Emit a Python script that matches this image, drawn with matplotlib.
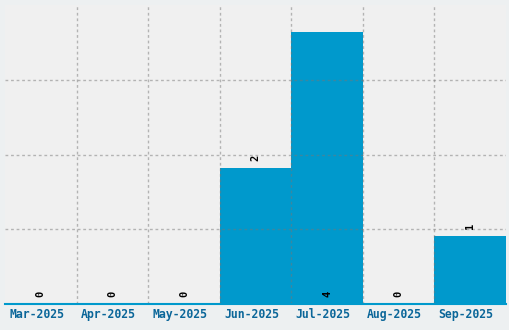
import numpy as np
import matplotlib
matplotlib.use("Agg")
import matplotlib.pyplot as plt
import matplotlib.transforms as mtransforms

meses = ["Mar-2025", "Apr-2025", "May-2025", "Jun-2025", "Jul-2025", "Aug-2025", "Sep-2025"]
valores = [0, 0, 0, 2, 4, 0, 1]

color_barra = "#0099cc"
color_texto = "#0a6699"

fig = plt.figure(figsize=(5.1, 3.3), dpi=100)
fig.patch.set_facecolor("#edf0f1")
ax = fig.add_axes([5 / 510, 26 / 330, 501 / 510, 299 / 330])
ax.set_facecolor("#f0f0f0")

x = np.arange(len(meses))
ax.bar(x, valores, width=1.0, color=color_barra, zorder=1)

ymax = max(valores) * 1.1
ax.set_xlim(-0.5, len(meses) - 0.5)
ax.set_ylim(0, ymax)

# grid encima de las barras
ax.set_xticks(x[:-1] + 0.5, minor=True)
ax.set_yticks([ymax / 4, ymax / 2, ymax * 3 / 4])
ax.grid(True, which="minor", axis="x", color="#777777", linestyle=(0, (2, 2)), linewidth=1, alpha=0.5, zorder=2)
ax.grid(True, which="major", axis="y", color="#777777", linestyle=(0, (2, 2)), linewidth=1, alpha=0.5, zorder=2)
ax.set_axisbelow(False)

ax.set_xticks(x)
ax.set_xticklabels(meses, fontfamily="DejaVu Sans Mono", fontweight="bold", fontsize=8.3, color=color_texto)
ax.tick_params(axis="x", which="both", length=0, pad=3)
ax.tick_params(axis="y", which="both", length=0, labelleft=False)

# las etiquetas del eje van un poco a la izquierda
desplaza = mtransforms.ScaledTranslation(-4 / 100, 0, fig.dpi_scale_trans)
for lbl in ax.get_xticklabels():
    lbl.set_transform(lbl.get_transform() + desplaza)

for s in ["top", "left", "right"]:
    ax.spines[s].set_visible(False)
ax.spines["bottom"].set_color(color_barra)
ax.spines["bottom"].set_linewidth(1.5)
ax.spines["bottom"].set_zorder(3)

# etiquetas de valor
for i, v in enumerate(valores):
    y = v if v < max(valores) else 0
    ax.annotate(str(v), (i, y), xytext=(0, 5), textcoords="offset points",
                ha="center", va="bottom", rotation=90, fontsize=7.5,
                fontfamily="DejaVu Sans Mono", fontweight="bold", color="black", zorder=4)

fig.savefig("out.png", dpi=100, facecolor=fig.get_facecolor())
